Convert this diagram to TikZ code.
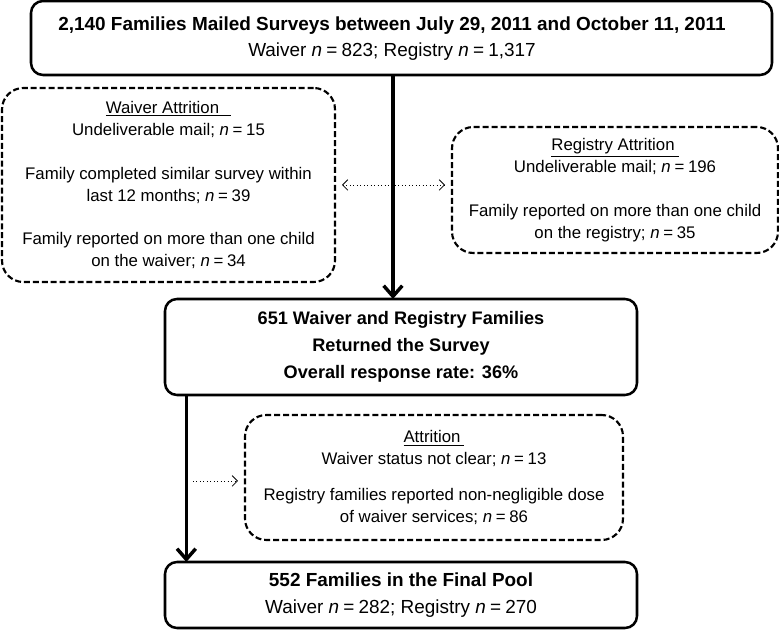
\documentclass[tikz,border=0pt]{standalone}
\usepackage{fontspec}
\setmainfont{Liberation Sans}
\usetikzlibrary{arrows.meta}
\newcommand{\nn}{\textit{n}\hspace{0.22em}=\hspace{0.22em}}
\tikzset{
  solidbox/.style={draw=black, line width=1.9pt, rounded corners=9pt, inner sep=0pt, outer sep=0pt, align=center, fill=white},
  dashbox/.style={draw=black, line width=1.6pt, dash pattern=on 4.5pt off 2.2pt, rounded corners=16pt, inner sep=0pt, outer sep=0pt, align=center},
  mainarrow/.style={line width=2.6pt, -{Straight Barb[length=8pt, width=14pt, line width=2.6pt]}},
  dotarrow/.style={line width=0.6pt, dotted, {Straight Barb[length=4pt,width=8pt,line width=0.6pt]}-{Straight Barb[length=4pt,width=8pt,line width=0.6pt]}},
  dotarrowr/.style={line width=0.6pt, dotted, -{Straight Barb[length=4pt,width=8pt,line width=0.6pt]}},
  regtext/.style={font=\fontsize{12.6}{16.5}\selectfont},
}
\begin{document}
\begin{tikzpicture}[x=0.75pt, y=-0.75pt]
\useasboundingbox (0,0) rectangle (779,630);
% top box
\node[solidbox, minimum width=555.75pt, minimum height=55.5pt] (top) at (401.5,38) {};
\node[font=\fontsize{14.2}{19}\selectfont, align=center, inner sep=0pt] (toptext) at (392,38.5)
  {\textbf{2,140 Families Mailed Surveys between July 29, 2011 and October 11, 2011}\\Waiver \nn 823; Registry \nn 1,317};
% waiver attrition
\node[dashbox, regtext, minimum width=249.75pt, minimum height=145.5pt] (waiver) at (168.5,185)
  {\underline{Waiver Attrition\hspace{9pt}}\\
   Undeliverable mail; \nn 15\\[16pt]
   Family completed similar survey within\\
   last 12 months; \nn 39\\[16pt]
   Family reported on more than one child\\
   on the waiver; \nn 34};
% registry attrition
\node[dashbox, regtext, minimum width=244.5pt, minimum height=94.5pt] (registry) at (615,190)
  {\underline{Registry Attrition\hspace{3pt}}\\
   Undeliverable mail; \nn 196\\[16pt]
   Family reported on more than one child\\
   on the registry; \nn 35};
% middle box
\node[solidbox, font=\fontsize{13.6}{20.3}\selectfont\bfseries, minimum width=354pt, minimum height=72pt] (mid) at (401,347)
  {651 Waiver and Registry Families\\
   Returned the Survey\\
   Overall response rate: 36\%};
% attrition box
\node[dashbox, regtext, minimum width=283.5pt, minimum height=93.75pt] (attr) at (434,477.5)
  {\underline{Attrition\hspace{3pt}}\\
   Waiver status not clear; \nn 13\\[10pt]
   Registry families reported non-negligible dose\\
   of waiver services; \nn 86};
% bottom box
\node[solidbox, font=\fontsize{14.2}{20.3}\selectfont, minimum width=354pt, minimum height=49.5pt] (final) at (401,595)
  {\textbf{552 Families in the Final Pool}\\
   Waiver \nn 282; Registry \nn 270};
% connectors
\draw[mainarrow] ([xshift=-6.4pt]top.south) -- ([xshift=-6.4pt]top.south |- mid.north);
\draw[mainarrow] ([xshift=-161pt]mid.south) -- ([xshift=-161pt]mid.south |- final.north);
\draw[dotarrow] ([xshift=5.25pt]waiver.east) -- ([xshift=-5.25pt]waiver.east -| registry.west);
\draw[dotarrowr] ([xshift=-39pt,yshift=-2.6pt]attr.west) -- ([xshift=-5.25pt,yshift=-2.6pt]attr.west);
\end{tikzpicture}
\end{document}
